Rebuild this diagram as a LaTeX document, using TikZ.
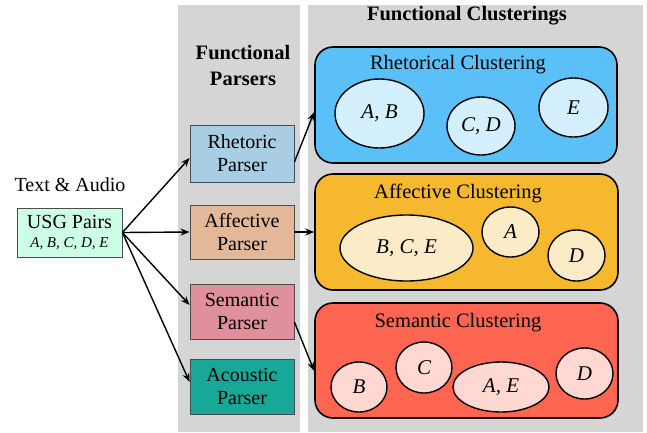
\documentclass[tikz,border=0pt]{standalone}
\usepackage{fontspec}
\setmainfont{Liberation Serif}
\usetikzlibrary{arrows.meta,shapes.geometric}
\definecolor{panelgray}{HTML}{D5D5D5}
\definecolor{rhetparse}{HTML}{A9CEE4}
\definecolor{affparse}{HTML}{E2B899}
\definecolor{semparse}{HTML}{E08F9C}
\definecolor{acoparse}{HTML}{17A898}
\definecolor{usgfill}{HTML}{CCFFE5}
\definecolor{rhetclu}{HTML}{5BC0F8}
\definecolor{rhetell}{HTML}{D4EFFD}
\definecolor{affclu}{HTML}{F5B82E}
\definecolor{affell}{HTML}{FCEBC7}
\definecolor{semclu}{HTML}{FF6652}
\definecolor{semell}{HTML}{FFD8D2}
\begin{document}
\begin{tikzpicture}[x=1pt,y=-1pt,
  font=\fontsize{20}{23}\selectfont,
  parser/.style={draw=black!70, line width=0.8pt, minimum width=104pt, minimum height=55pt, align=center, inner sep=0pt},
  cluster/.style={draw=black, line width=1.6pt, rounded corners=18pt, minimum width=302pt, minimum height=116pt, inner sep=0pt},
  grp/.style={ellipse, draw=black, line width=1.4pt, inner sep=0pt, font=\fontsize{21}{24}\selectfont\itshape},
  cltitle/.style={inner sep=0pt, font=\fontsize{20.5}{23}\selectfont},
  arr/.style={-{Stealth[length=9pt,width=7pt]}, line width=1.4pt}]
\useasboundingbox (0,0) rectangle (647,432);
% panels
\fill[panelgray] (178,5) rectangle (300,432);
\fill[panelgray] (308,5) rectangle (643,432);
% titles
\node[align=center, font=\fontsize{20.5}{26}\selectfont\bfseries] (tparsers) at (243,65) {Functional\\Parsers};
\node[font=\fontsize{20.5}{23}\selectfont\bfseries] (tclust) at (467,16) {Functional Clusterings};
% input
\node (tin) at (70,185) {Text \& Audio};
\node[draw=black!70, line width=0.8pt, fill=usgfill, minimum width=105pt, minimum height=49pt, align=center, inner sep=0pt] (usg) at (69.5,232.5)
  {USG Pairs\\[-4pt]{\fontsize{15}{17}\selectfont\itshape A, B, C, D, E}};
% parsers
\node[parser, fill=rhetparse, minimum height=57pt] (rp) at (242,153.5) {Rhetoric\\Parser};
\node[parser, fill=affparse, minimum height=54pt] (ap) at (242,232) {Affective\\Parser};
\node[parser, fill=semparse] (sp) at (242,311.5) {Semantic\\Parser};
\node[parser, fill=acoparse] (cp) at (242,386.5) {Acoustic\\Parser};
% clusters
\node[cluster, fill=rhetclu] (rc) at (466,105) {};
\node[cluster, fill=affclu, minimum width=303pt] (ac) at (466.5,232) {};
\node[cluster, fill=semclu, minimum width=303pt, minimum height=115pt] (sc) at (466.5,360.5) {};
\node[cltitle] (rct) at (458,65) {Rhetorical Clustering};
\node[cltitle] (act) at (458,193) {Affective Clustering};
\node[cltitle] (sct) at (458,323) {Semantic Clustering};
% rhetorical groups
\node[grp, fill=rhetell, minimum width=89pt, minimum height=69pt] (r1) at (379.5,113.5) {A, B};
\node[grp, fill=rhetell, minimum width=68pt, minimum height=58pt] (r2) at (481,126) {C, D};
\node[grp, fill=rhetell, minimum width=69pt, minimum height=59pt] (r3) at (573.5,107.5) {E};
% affective groups
\node[grp, fill=affell, minimum width=133pt, minimum height=66pt] (a1) at (406.5,248) {B, C, E};
\node[grp, fill=affell, minimum width=57pt, minimum height=50pt] (a2) at (510.5,232) {A};
\node[grp, fill=affell, minimum width=57pt, minimum height=51pt] (a3) at (576.5,255.5) {D};
% semantic groups
\node[grp, fill=semell, minimum width=56pt, minimum height=50pt] (s1) at (359,387) {B};
\node[grp, fill=semell, minimum width=56pt, minimum height=51pt] (s2) at (424,367.5) {C};
\node[grp, fill=semell, minimum width=96pt, minimum height=50pt] (s3) at (501,387) {A, E};
\node[grp, fill=semell, minimum width=57pt, minimum height=51pt] (s4) at (584.5,373.5) {D};
% arrows
\draw[arr] (usg.east) -- ([yshift=-4.5pt]rp.west);
\draw[arr] (usg.east) -- (ap.west);
\draw[arr] (usg.east) -- ([yshift=6.5pt]sp.west);
\draw[arr] (usg.east) -- ([yshift=4.5pt]cp.west);
\draw[arr] ([yshift=-8.5pt]rp.east) -- ([yshift=-7pt]rc.west);
\draw[arr] (ap.east) -- (ac.west);
\draw[arr] ([yshift=-10.5pt]sp.east) -- ([yshift=-10.5pt]sc.west);
\end{tikzpicture}
\end{document}
